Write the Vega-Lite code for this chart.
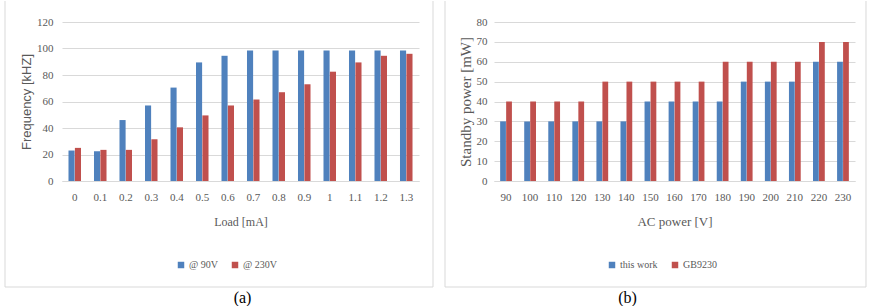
{
  "$schema": "https://vega.github.io/schema/vega-lite/v6.json",
  "background": "white",
  "padding": {"left": 4, "top": 0, "right": 0, "bottom": 0},
  "spacing": 10,
  "datasets": {
    "freq": [
      {"load": "0", "series": "@ 90V", "value": 23}, {"load": "0", "series": "@ 230V", "value": 25},
      {"load": "0.1", "series": "@ 90V", "value": 22.5}, {"load": "0.1", "series": "@ 230V", "value": 23.5},
      {"load": "0.2", "series": "@ 90V", "value": 46}, {"load": "0.2", "series": "@ 230V", "value": 23.5},
      {"load": "0.3", "series": "@ 90V", "value": 57}, {"load": "0.3", "series": "@ 230V", "value": 31.5},
      {"load": "0.4", "series": "@ 90V", "value": 70.5}, {"load": "0.4", "series": "@ 230V", "value": 40.5},
      {"load": "0.5", "series": "@ 90V", "value": 89.5}, {"load": "0.5", "series": "@ 230V", "value": 49.5},
      {"load": "0.6", "series": "@ 90V", "value": 94.5}, {"load": "0.6", "series": "@ 230V", "value": 57},
      {"load": "0.7", "series": "@ 90V", "value": 98.5}, {"load": "0.7", "series": "@ 230V", "value": 61.5},
      {"load": "0.8", "series": "@ 90V", "value": 98.5}, {"load": "0.8", "series": "@ 230V", "value": 67},
      {"load": "0.9", "series": "@ 90V", "value": 98.5}, {"load": "0.9", "series": "@ 230V", "value": 73},
      {"load": "1", "series": "@ 90V", "value": 98.5}, {"load": "1", "series": "@ 230V", "value": 82.5},
      {"load": "1.1", "series": "@ 90V", "value": 98.5}, {"load": "1.1", "series": "@ 230V", "value": 89.5},
      {"load": "1.2", "series": "@ 90V", "value": 98.5}, {"load": "1.2", "series": "@ 230V", "value": 94.5},
      {"load": "1.3", "series": "@ 90V", "value": 98.5}, {"load": "1.3", "series": "@ 230V", "value": 96}
    ],
    "power": [
      {"ac": "90", "series": "this work", "value": 30}, {"ac": "90", "series": "GB9230", "value": 40},
      {"ac": "100", "series": "this work", "value": 30}, {"ac": "100", "series": "GB9230", "value": 40},
      {"ac": "110", "series": "this work", "value": 30}, {"ac": "110", "series": "GB9230", "value": 40},
      {"ac": "120", "series": "this work", "value": 30}, {"ac": "120", "series": "GB9230", "value": 40},
      {"ac": "130", "series": "this work", "value": 30}, {"ac": "130", "series": "GB9230", "value": 50},
      {"ac": "140", "series": "this work", "value": 30}, {"ac": "140", "series": "GB9230", "value": 50},
      {"ac": "150", "series": "this work", "value": 40}, {"ac": "150", "series": "GB9230", "value": 50},
      {"ac": "160", "series": "this work", "value": 40}, {"ac": "160", "series": "GB9230", "value": 50},
      {"ac": "170", "series": "this work", "value": 40}, {"ac": "170", "series": "GB9230", "value": 50},
      {"ac": "180", "series": "this work", "value": 40}, {"ac": "180", "series": "GB9230", "value": 60},
      {"ac": "190", "series": "this work", "value": 50}, {"ac": "190", "series": "GB9230", "value": 60},
      {"ac": "200", "series": "this work", "value": 50}, {"ac": "200", "series": "GB9230", "value": 60},
      {"ac": "210", "series": "this work", "value": 50}, {"ac": "210", "series": "GB9230", "value": 60},
      {"ac": "220", "series": "this work", "value": 60}, {"ac": "220", "series": "GB9230", "value": 70},
      {"ac": "230", "series": "this work", "value": 60}, {"ac": "230", "series": "GB9230", "value": 70}
    ]
  },
  "hconcat": [
    {
      "width": 357,
      "height": 159,
      "title": {"text": "(a)", "orient": "bottom", "anchor": "middle", "dx": 2, "offset": 2, "font": "Liberation Serif", "fontSize": 16, "fontWeight": "normal", "color": "#000000"},
      "layer": [
        {
          "data": {"name": "freq"},
          "encoding": {
            "x": {
              "field": "load", "type": "nominal", "sort": null,
              "scale": {"paddingInner": 0.5, "paddingOuter": 0.25},
              "axis": {"title": "Load [mA]", "labelAngle": 0, "ticks": false, "domainColor": "#d9d9d9", "labelFont": "Liberation Sans Narrow", "labelFontSize": 11, "labelColor": "#595959", "labelPadding": 10, "titleFont": "Liberation Sans Narrow", "titleFontSize": 12, "titleFontWeight": "normal", "titleColor": "#595959", "titlePadding": 14, "grid": false}
            },
            "y": {
              "field": "value", "type": "quantitative",
              "scale": {"domain": [0, 120], "nice": false},
              "axis": {"title": "Frequency [kHZ]", "values": [0, 20, 40, 60, 80, 100, 120], "domain": false, "ticks": false, "grid": true, "gridColor": "#d9d9d9", "labelFont": "Liberation Sans Narrow", "labelFontSize": 11, "labelColor": "#595959", "labelPadding": 9, "titleFont": "Liberation Sans", "titleFontSize": 13, "titleFontWeight": "normal", "titleColor": "#595959", "titlePadding": 3}
            },
            "color": {
              "field": "series", "type": "nominal", "sort": ["@ 90V", "@ 230V"],
              "scale": {"domain": ["@ 90V", "@ 230V"], "range": ["#4F81BD", "#C0504D"]},
              "legend": {"title": null, "orient": "none", "legendX": 114, "legendY": 238, "direction": "horizontal", "symbolType": "square", "symbolSize": 42, "symbolStrokeWidth": 0, "labelFont": "Liberation Sans Narrow", "labelFontSize": 10, "labelColor": "#595959", "labelOffset": 3, "columnPadding": 12, "padding": 0}
            }
          },
          "layer": [
            {
              "transform": [{"filter": "datum.series === '@ 90V'"}],
              "mark": {"type": "bar", "width": {"band": 0.48}, "xOffset": -3.2}
            },
            {
              "transform": [{"filter": "datum.series === '@ 230V'"}],
              "mark": {"type": "bar", "width": {"band": 0.48}, "xOffset": 3.2}
            }
          ]
        },
        {
          "data": {"values": [{}]},
          "mark": {"type": "rule", "color": "#d9d9d9", "strokeWidth": 1},
          "encoding": {
            "x": {"datum": -0.15966, "type": "quantitative", "scale": {"domain": [0, 1], "nice": false, "zero": false}, "axis": null},
            "y": {"datum": 1.1321, "type": "quantitative", "scale": {"domain": [0, 1], "nice": false, "zero": false}, "axis": null},
            "y2": {"datum": -0.66667}
          }
        },
        {
          "data": {"values": [{}]},
          "mark": {"type": "rule", "color": "#d9d9d9", "strokeWidth": 1},
          "encoding": {
            "x": {"datum": 1.03922, "type": "quantitative", "scale": {"domain": [0, 1], "nice": false, "zero": false}, "axis": null},
            "y": {"datum": 1.1321, "type": "quantitative", "scale": {"domain": [0, 1], "nice": false, "zero": false}, "axis": null},
            "y2": {"datum": -0.66667}
          }
        },
        {
          "data": {"values": [{}]},
          "mark": {"type": "rule", "color": "#d9d9d9", "strokeWidth": 1},
          "encoding": {
            "x": {"datum": -0.15966, "type": "quantitative", "scale": {"domain": [0, 1], "nice": false, "zero": false}, "axis": null},
            "x2": {"datum": 1.03922},
            "y": {"datum": -0.66667, "type": "quantitative", "scale": {"domain": [0, 1], "nice": false, "zero": false}, "axis": null}
          }
        }
      ],
      "resolve": {"scale": {"x": "independent", "y": "independent"}}
    },
    {
      "width": 361,
      "height": 159,
      "title": {"text": "(b)", "orient": "bottom", "anchor": "middle", "dx": -47, "offset": 2, "font": "Liberation Serif", "fontSize": 16, "fontWeight": "normal", "color": "#000000"},
      "layer": [
        {
          "data": {"name": "power"},
          "encoding": {
            "x": {
              "field": "ac", "type": "nominal", "sort": null,
              "scale": {"paddingInner": 0.5, "paddingOuter": 0.25},
              "axis": {"title": "AC power [V]", "labelAngle": 0, "ticks": false, "domainColor": "#d9d9d9", "labelFont": "Liberation Serif", "labelFontSize": 11, "labelColor": "#595959", "labelPadding": 10, "titleFont": "Liberation Serif", "titleFontSize": 13, "titleFontWeight": "normal", "titleColor": "#595959", "titlePadding": 13, "grid": false}
            },
            "y": {
              "field": "value", "type": "quantitative",
              "scale": {"domain": [0, 80], "nice": false},
              "axis": {"title": "Standby power [mW]", "values": [0, 10, 20, 30, 40, 50, 60, 70, 80], "domain": false, "ticks": false, "grid": true, "gridColor": "#d9d9d9", "labelFont": "Liberation Serif", "labelFontSize": 11, "labelColor": "#595959", "labelPadding": 7, "titleFont": "Liberation Serif", "titleFontSize": 15, "titleFontWeight": "normal", "titleColor": "#595959", "titlePadding": 3}
            },
            "color": {
              "field": "series", "type": "nominal", "sort": ["this work", "GB9230"],
              "scale": {"domain": ["this work", "GB9230"], "range": ["#4F81BD", "#C0504D"]},
              "legend": {"title": null, "orient": "none", "legendX": 113, "legendY": 238, "direction": "horizontal", "symbolType": "square", "symbolSize": 42, "symbolStrokeWidth": 0, "labelFont": "Liberation Serif", "labelFontSize": 10, "labelColor": "#595959", "labelOffset": 3, "columnPadding": 12, "padding": 0}
            }
          },
          "layer": [
            {
              "transform": [{"filter": "datum.series === 'this work'"}],
              "mark": {"type": "bar", "width": {"band": 0.48}, "xOffset": -3.0}
            },
            {
              "transform": [{"filter": "datum.series === 'GB9230'"}],
              "mark": {"type": "bar", "width": {"band": 0.48}, "xOffset": 3.0}
            }
          ]
        },
        {
          "data": {"values": [{}]},
          "mark": {"type": "rule", "color": "#d9d9d9", "strokeWidth": 1},
          "encoding": {
            "x": {"datum": -0.13573, "type": "quantitative", "scale": {"domain": [0, 1], "nice": false, "zero": false}, "axis": null},
            "y": {"datum": 1.1321, "type": "quantitative", "scale": {"domain": [0, 1], "nice": false, "zero": false}, "axis": null},
            "y2": {"datum": -0.66667}
          }
        },
        {
          "data": {"values": [{}]},
          "mark": {"type": "rule", "color": "#d9d9d9", "strokeWidth": 1},
          "encoding": {
            "x": {"datum": 1.03047, "type": "quantitative", "scale": {"domain": [0, 1], "nice": false, "zero": false}, "axis": null},
            "y": {"datum": 1.1321, "type": "quantitative", "scale": {"domain": [0, 1], "nice": false, "zero": false}, "axis": null},
            "y2": {"datum": -0.66667}
          }
        },
        {
          "data": {"values": [{}]},
          "mark": {"type": "rule", "color": "#d9d9d9", "strokeWidth": 1},
          "encoding": {
            "x": {"datum": -0.13573, "type": "quantitative", "scale": {"domain": [0, 1], "nice": false, "zero": false}, "axis": null},
            "x2": {"datum": 1.03047},
            "y": {"datum": -0.66667, "type": "quantitative", "scale": {"domain": [0, 1], "nice": false, "zero": false}, "axis": null}
          }
        }
      ],
      "resolve": {"scale": {"x": "independent", "y": "independent"}}
    }
  ],
  "resolve": {"scale": {"color": "independent"}, "legend": {"color": "independent"}},
  "config": {
    "view": {"stroke": null},
    "font": "Liberation Sans"
  }
}
